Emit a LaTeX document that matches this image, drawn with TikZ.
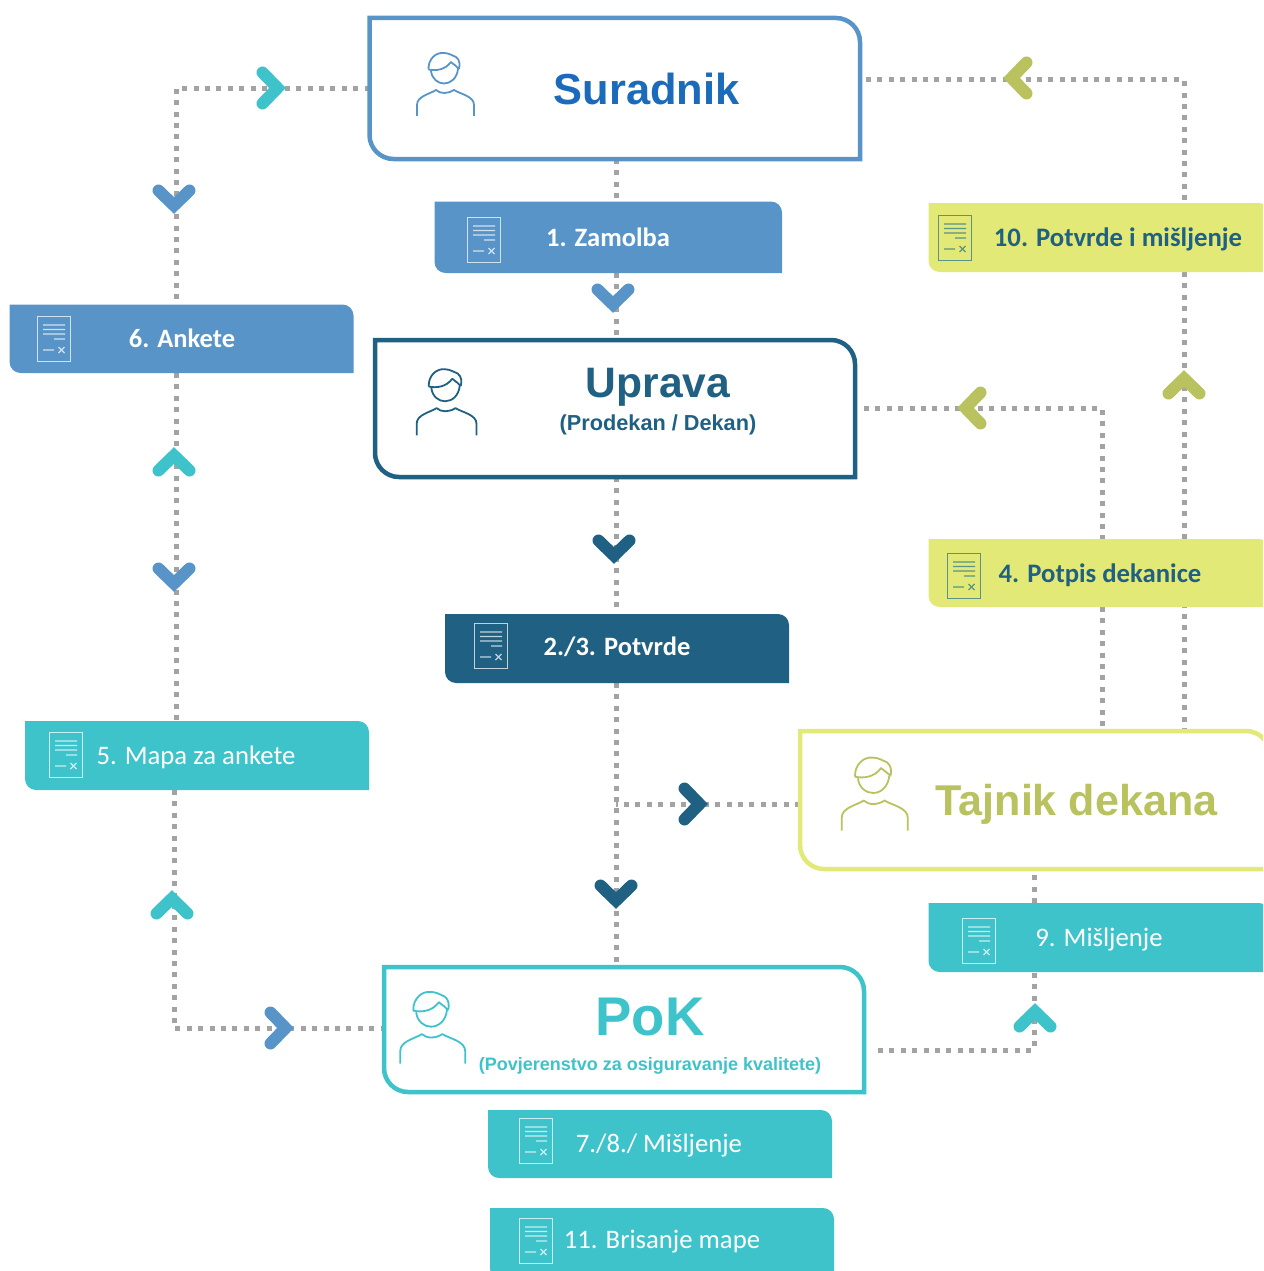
\documentclass[tikz,border=0pt]{standalone}
\usepackage{fontspec}
\setmainfont{Carlito}
\newfontfamily\headfont{Liberation Sans}
\usetikzlibrary{fit,calc}
\definecolor{cblue}{HTML}{5894C8}
\definecolor{cdark}{HTML}{1F6083}
\definecolor{cteal}{HTML}{3EC3CB}
\definecolor{cyel}{HTML}{E2E976}
\definecolor{colive}{HTML}{B9C25F}
\definecolor{ctitle}{HTML}{1C6BBB}
\definecolor{cdot}{HTML}{A3A3A3}
\definecolor{cicon}{HTML}{5A9484}
\pgfdeclarelayer{bg}
\pgfsetlayers{bg,main}
\tikzset{
  dots/.style={draw=cdot,line width=5pt,dash pattern=on 5pt off 6.4pt},
  outline/.style={draw=#1,fill=white,line width=4.5pt},
  solid box/.style={fill=#1},
  anchor box/.style={inner sep=0pt,outer sep=0pt,rectangle},
  label w/.style={anchor=base,text=white,inner sep=0pt},
  label d/.style={anchor=base,text=cdark,inner sep=0pt},
  head/.style={anchor=base,inner sep=0pt,font=\headfont\bfseries},
  docw/.style={draw=white,draw opacity=.72},
  docd/.style={draw=cicon},
  pics/chev/.style={code={
    \draw[#1,line width=12pt,line cap=round,line join=miter] (-15.5,-8.5) -- (0,6.5) -- (15.5,-8.5);
  }},
  pics/person/.style={code={
    \draw[#1,line width=1.8pt,line cap=butt,line join=round]
      % hair and top of the head
      (-15.5,1.5) .. controls (-16,-9) and (-8,-16) .. (0,-15)
        .. controls (5,-15) and (9,-12) .. (12,-11)
        .. controls (16,-8) and (16,-3) .. (15,1)
      % fringe
      (-15.5,1.5) .. controls (-8,3) and (1,2) .. (7,-6)
        .. controls (10,-3) and (13,-2) .. (15,1)
      % face
      (-13,3) .. controls (-12,11) and (-6,15.5) .. (0,15.5)
        .. controls (7,15.5) and (13,10) .. (14,1)
      % shoulders
      (-27,48) -- (-27,37) .. controls (-27,28) and (-14,26) .. (-8,22)
        .. controls (-4,26) and (4,26) .. (10,22)
        .. controls (16,26) and (30,28) .. (30,37) -- (30,48);
  }},
  pics/doc/.style={code={
    \draw[#1,line width=1.2pt] (-16.5,-22.5) rectangle (16.5,22.5);
    \draw[#1,line width=1.2pt]
      (-11,-14) -- (11,-14) (-11,-9.5) -- (11,-9.5) (-11,-5) -- (11,-5) (0,0) -- (11,0)
      (-11,11) -- (0,11) (4.5,8) -- (10.5,14) (4.5,14) -- (10.5,8);
  }},
}
% name, x1, y1, x2, y2, radius, style
\newcommand{\flowbox}[7]{%
  \node[anchor box,fit={(#2,#3) (#4,#5)}] (#1) {};
  \path[#7] (#2,#3) -- ({#4-#6},#3)
    .. controls ({#4-.45*#6},#3) and (#4,{#3+.45*#6}) .. (#4,{#3+#6})
    -- (#4,#5) -- ({#2+#6},#5)
    .. controls ({#2+.45*#6},#5) and (#2,{#5-.45*#6}) .. (#2,{#5-#6})
    -- cycle;
}
\begin{document}
\begin{tikzpicture}[x=1pt,y=-1pt]
\useasboundingbox (0,0) rectangle (1263,1271);
\clip (0,0) rectangle (1263,1271);

% main boxes
\flowbox{sur}{369.5}{18}{860}{159}{24}{outline=cblue}
\flowbox{upr}{375}{340}{855}{477}{24}{outline=cdark}
\flowbox{pok}{384}{967}{864}{1092}{24}{outline=cteal}
\flowbox{taj}{800}{731}{1270}{869}{24}{outline=cyel}
% document boxes
\flowbox{zam}{434.5}{201.5}{782}{273}{11}{solid box=cblue}
\flowbox{ptv}{928.5}{203}{1270}{272}{11}{solid box=cyel}
\flowbox{ank}{9.5}{304.5}{353.5}{373}{11}{solid box=cblue}
\flowbox{pot}{445}{614}{789}{683}{11}{solid box=cdark}
\flowbox{pdk}{928.5}{539}{1270}{607}{11}{solid box=cyel}
\flowbox{map}{25}{721}{369}{790}{11}{solid box=cteal}
\flowbox{mis}{928.5}{903}{1270}{972}{11}{solid box=cteal}
\flowbox{moe}{488}{1110}{832}{1178}{11}{solid box=cteal}
\flowbox{bri}{490}{1208}{834}{1280}{11}{solid box=cteal}

% titles
\node[head,text=ctitle,font=\headfont\bfseries\fontsize{43.4}{44}\selectfont] (tsur) at (646.5,105) {Suradnik};
\node[head,text=cdark,font=\headfont\bfseries\fontsize{42.6}{43}\selectfont] (tupr) at (658,397) {Uprava};
\node[head,text=cdark,font=\headfont\bfseries\fontsize{21.7}{22}\selectfont] (supr) at (658,430) {(Prodekan / Dekan)};
\node[head,text=cteal,font=\headfont\bfseries\fontsize{54.5}{55}\selectfont] (tpok) at (650,1035) {PoK};
\node[head,text=cteal,font=\headfont\bfseries\fontsize{18}{18}\selectfont] (spok) at (650,1070) {(Povjerenstvo za osiguravanje kvalitete)};
\node[head,text=colive,font=\headfont\bfseries\fontsize{43.1}{44}\selectfont] (ttaj) at (1076.5,815) {Tajnik dekana};

% labels
\node[label w,font=\bfseries\fontsize{26.5}{27}\selectfont] (lzam) at (608,246) {1. Zamolba};
\node[label d,font=\bfseries\fontsize{26.7}{27}\selectfont] (lptv) at (1118,246) {10. Potvrde i mišljenje};
\node[label w,font=\bfseries\fontsize{26.5}{27}\selectfont] (lank) at (182,347) {6. Ankete};
\node[label d,font=\bfseries\fontsize{26.7}{27}\selectfont] (lpdk) at (1100,582) {4. Potpis dekanice};
\node[label w,font=\bfseries\fontsize{26.5}{27}\selectfont] (lpot) at (617,655) {2./3. Potvrde};
\node[label w,font=\fontsize{26.7}{27}\selectfont] (lmap) at (196,764) {5. Mapa za ankete};
\node[label w,font=\fontsize{26.7}{27}\selectfont] (lmis) at (1099,946) {9. Mišljenje};
\node[label w,font=\fontsize{26.7}{27}\selectfont] (lmoe) at (659,1152) {7./8./ Mišljenje};
\node[label w,font=\fontsize{26.7}{27}\selectfont] (lbri) at (662,1248) {11. Brisanje mape};

% person icons
\pic at (444,68) {person=cblue};
\pic[scale=1.05] at (445,385) {person=cdark};
\pic[scale=1.14] at (431,1009) {person=cteal};
\pic[scale=1.16] at (873,775) {person=colive};

% document icons
\pic at (484,240) {doc=docw};
\pic at (955,238) {doc=docd};
\pic at (54,339) {doc=docw};
\pic at (491,646) {doc=docw};
\pic at (964,576) {doc=docd};
\pic at (66,755) {doc=docw};
\pic at (979,941) {doc=docw};
\pic at (536,1141) {doc=docw};
\pic at (536,1241) {doc=docw};

% connector way-points
\coordinate (ja) at (176,88.5);
\coordinate (jb) at (174,1028);
\coordinate (jc) at (1184,80);
\coordinate (jd) at (1102,408.5);
\coordinate (je) at (1034,1050);
\coordinate (jf) at (616,804);
\coordinate (jg) at (616,0);

\begin{pgfonlayer}{bg}
  \draw[dots] (sur.west) -- (ja) -- (ja |- ank.north);
  \draw[dots] (ja |- ank.south) -- (ja |- map.north);
  \draw[dots] (jb |- map.south) -- (jb) -- (pok.west |- jb);
  \draw[dots] (jg |- sur.south) -- (jg |- zam.north);
  \draw[dots] (jg |- zam.south) -- (jg |- upr.north);
  \draw[dots] (jg |- upr.south) -- (jg |- pot.north);
  \draw[dots] (jg |- pot.south) -- (jg |- pok.north);
  \draw[dots] (taj.west |- jf) -- (jf);
  \draw[dots,shorten <=14pt] (pok.east |- je) -- (je) -- (je |- mis.south);
  \draw[dots] (je |- mis.north) -- (je |- taj.south);
  \draw[dots,shorten <=9pt] (upr.east) -- (jd) -- (jd |- pdk.north);
  \draw[dots] (jd |- pdk.south) -- (jd |- taj.north);
  \draw[dots,shorten <=6pt] (sur.east |- jc) -- (jc) -- (jc |- ptv.north);
  \draw[dots] (jc |- ptv.south) -- (jc |- taj.north);
\end{pgfonlayer}

% chevrons
\pic at (174,199) {chev=cblue};
\pic[rotate=90] at (271,88) {chev=cteal};
\pic at (613,298) {chev=cblue};
\pic[rotate=-90] at (1018,78) {chev=colive};
\pic[rotate=180] at (1184,385) {chev=colive};
\pic[rotate=-90] at (972,408) {chev=colive};
\pic[rotate=180] at (174,462) {chev=cteal};
\pic at (174,577) {chev=cblue};
\pic at (614,549) {chev=cdark};
\pic[rotate=180] at (172,905) {chev=cteal};
\pic[rotate=90] at (693,804) {chev=cdark};
\pic at (616,894) {chev=cdark};
\pic[rotate=90] at (279,1028) {chev=cblue};
\pic[rotate=180] at (1035,1018) {chev=cteal};
\end{tikzpicture}
\end{document}
